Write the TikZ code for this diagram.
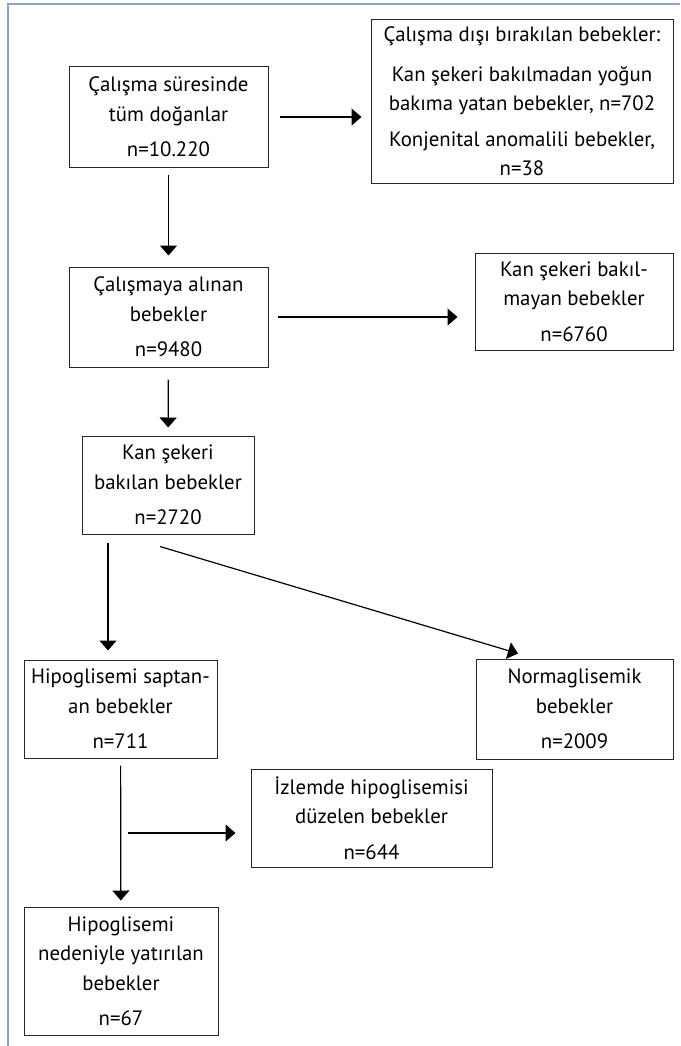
\documentclass[tikz,border=0pt]{standalone}
\usepackage{fontspec}
\setmainfont{PT Sans}
\usepackage{xcolor}
\usepackage{tikz}
\usetikzlibrary{arrows.meta}

\definecolor{framecol}{RGB}{140,162,210}

\tikzset{
	box/.style={draw=black!85, line width=1pt, align=center, inner sep=0pt,
		font=\fontsize{20.8}{29.5}\selectfont},
	arr/.style={line width=1.2pt, -{Triangle[length=10pt,width=17pt]}}
}

\begin{document}
\begin{tikzpicture}[x=1pt,y=-1pt]

\useasboundingbox (0,0) rectangle (680,1046);
\draw[framecol, line width=2pt] (8,1046)--(8,4.5)--(680,4.5);

\node[box, minimum width=199, minimum height=100] (born) at (168.5,117)
	{Çalışma süresinde\\tüm doğanlar\\[6pt]n=10.220};
\node[box, minimum width=302, minimum height=163] (excl) at (522,101.5)
	{Çalışma dışı bırakılan bebekler:\\[10pt]Kan şekeri bakılmadan yoğun\\bakıma yatan bebekler, n=702\\[6pt]Konjenital anomalili bebekler,\\n=38};
\node[box, minimum width=199, minimum height=100] (incl) at (168.5,317)
	{Çalışmaya alınan\\bebekler\\[6pt]n=9480};
\node[box, minimum width=198, minimum height=97] (nocheck) at (574,301.5)
	{Kan şekeri bakıl-\\mayan bebekler\\[6pt]n=6760};
\node[box, minimum width=172, minimum height=98] (check) at (168,485)
	{Kan şekeri\\bakılan bebekler\\[6pt]n=2720};
\node[box, minimum width=193, minimum height=98] (hypo) at (120.5,709)
	{Hipoglisemi saptan-\\an bebekler\\[6pt]n=711};
\node[box, minimum width=197, minimum height=100] (normo) at (574.5,709)
	{Normaglisemik\\bebekler\\[6pt]n=2009};
\node[box, minimum width=241, minimum height=98] (recov) at (371.5,818)
	{İzlemde hipoglisemisi\\düzelen bebekler\\[6pt]n=644};
\node[box, minimum width=194, minimum height=128] (admit) at (121,971)
	{Hipoglisemi\\nedeniyle yatırılan\\bebekler\\[6pt]n=67};

\draw[arr, shorten <=11pt, shorten >=9pt] (born.east) -- (born.east -| excl.west);
\draw[arr, shorten <=7pt, shorten >=11pt] (born) -- (incl);
\draw[arr, shorten <=9pt, shorten >=17pt] (incl.east) -- (incl.east -| nocheck.west);
\draw[arr, shorten <=12pt, shorten >=8pt] (incl) -- (check);
\draw[arr, shorten <=8pt, shorten >=9pt] ([xshift=-60pt]check.south) -- ([xshift=-60pt]check.south |- hypo.north);
\draw[arr] ([shift={(-8,12)}]check.south) -- ([shift={(-56.5,-5)}]normo.north);
\draw[arr, shorten <=7pt, shorten >=6pt] (hypo) -- (admit);

\coordinate (split) at (128,833);
\draw[arr, shorten >=15pt] (split) -- (split -| recov.west);
\end{tikzpicture}
\end{document}
